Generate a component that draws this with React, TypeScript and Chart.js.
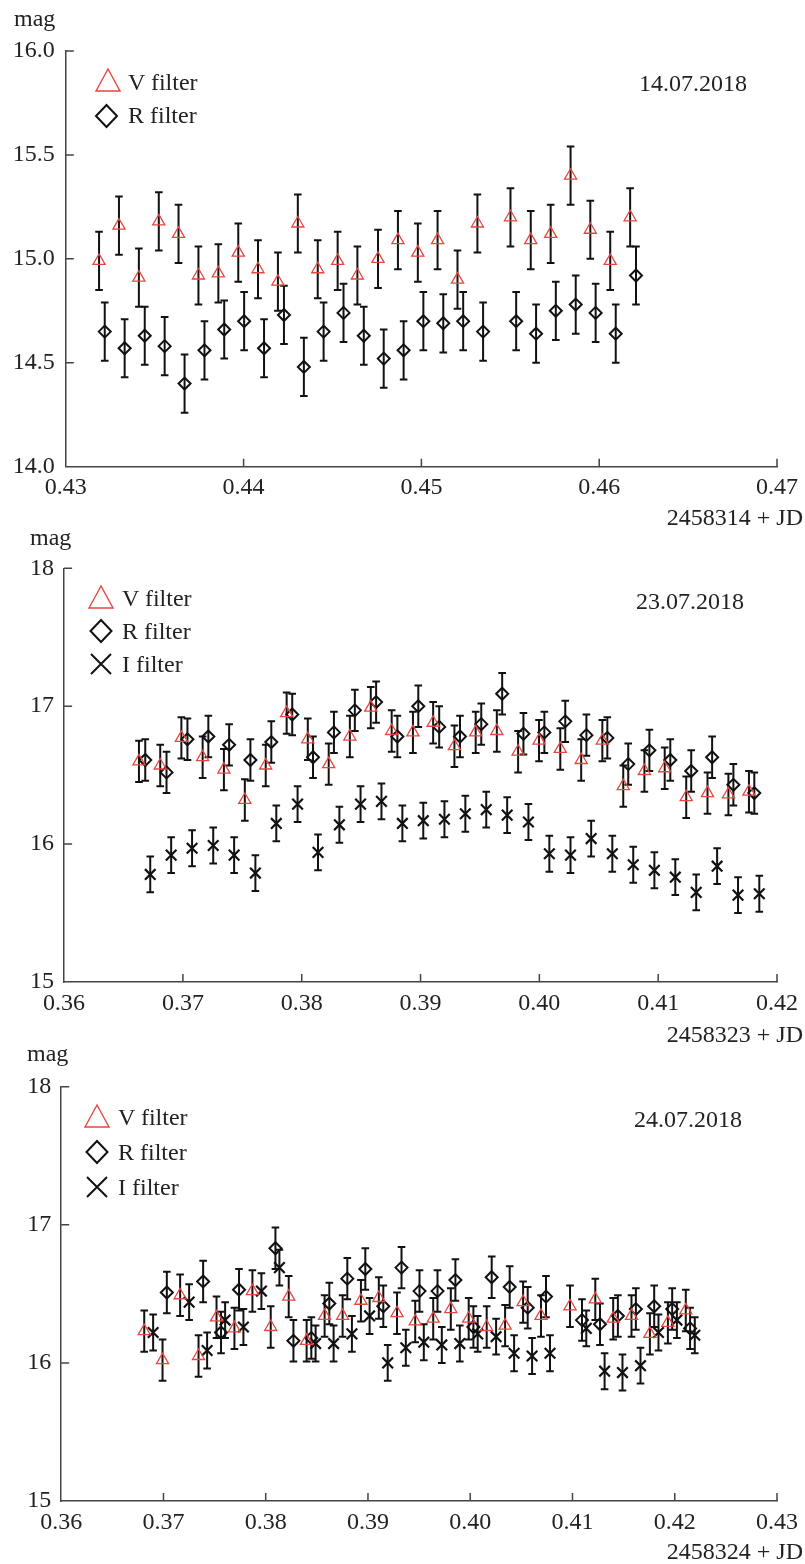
import React, { useEffect, useRef } from 'react';
import { Chart, registerables } from 'chart.js';

Chart.register(...registerables);

const FONT = "'Liberation Serif', 'DejaVu Serif', 'Times New Roman', Times, serif";
const AXIS_COLOR = '#444';
const TEXT_COLOR = '#222';
const RED = '#e8473f';

// ---------- Panel 1: 14.07.2018 (2458314 + JD) ----------
const P1_V_JD = [0.43187, 0.43299, 0.43411, 0.43523, 0.43634, 0.43746, 0.43858, 0.4397, 0.44081, 0.44193, 0.44305, 0.44417, 0.44529, 0.4464, 0.44756, 0.44868, 0.4498, 0.45091, 0.45203, 0.45315, 0.45501, 0.45615, 0.45727, 0.45839, 0.4595, 0.46062, 0.46174];
const P1_V_MAG = [14.99, 15.16, 14.91, 15.18, 15.12, 14.92, 14.93, 15.03, 14.95, 14.89, 15.17, 14.95, 14.99, 14.92, 15.0, 15.09, 15.03, 15.09, 14.9, 15.17, 15.2, 15.09, 15.12, 15.4, 15.14, 14.99, 15.2];
const P1_R_JD = [0.43219, 0.43331, 0.43444, 0.43556, 0.43668, 0.4378, 0.43891, 0.44003, 0.44115, 0.44227, 0.44339, 0.4445, 0.44562, 0.44676, 0.44788, 0.449, 0.45011, 0.45123, 0.45235, 0.45347, 0.45533, 0.45645, 0.45756, 0.45868, 0.4598, 0.46093, 0.46207];
const P1_R_MAG = [14.65, 14.57, 14.63, 14.58, 14.4, 14.56, 14.66, 14.7, 14.57, 14.73, 14.48, 14.65, 14.74, 14.63, 14.52, 14.56, 14.7, 14.69, 14.7, 14.65, 14.7, 14.64, 14.75, 14.78, 14.74, 14.64, 14.92];
const P1_V_ERR = 0.14;
const P1_R_ERR = 0.14;

// ---------- Panel 2: 23.07.2018 (2458323 + JD) ----------
const P2_V_JD = [0.3663, 0.36809, 0.36987, 0.37166, 0.37345, 0.37521, 0.37697, 0.37873, 0.38051, 0.38227, 0.38405, 0.38581, 0.38757, 0.38936, 0.39106, 0.39285, 0.39464, 0.39642, 0.39821, 0.39997, 0.40176, 0.40352, 0.4053, 0.40706, 0.40884, 0.41055, 0.41236, 0.41415, 0.41591, 0.41764];
const P2_V_MAG = [16.6, 16.57, 16.77, 16.63, 16.54, 16.32, 16.57, 16.95, 16.76, 16.58, 16.78, 16.99, 16.82, 16.81, 16.88, 16.71, 16.81, 16.82, 16.67, 16.75, 16.69, 16.61, 16.75, 16.42, 16.53, 16.55, 16.34, 16.37, 16.36, 16.38];
const P2_R_JD = [0.36683, 0.36862, 0.37038, 0.37214, 0.37389, 0.37568, 0.37744, 0.3792, 0.38095, 0.38271, 0.38447, 0.38626, 0.38805, 0.38981, 0.39157, 0.39332, 0.39511, 0.39687, 0.39866, 0.40042, 0.40218, 0.40396, 0.40572, 0.40748, 0.40926, 0.41102, 0.41278, 0.41454, 0.41633, 0.41809];
const P2_R_MAG = [16.61, 16.52, 16.76, 16.78, 16.72, 16.61, 16.74, 16.94, 16.63, 16.81, 16.97, 17.03, 16.78, 17.0, 16.85, 16.78, 16.87, 17.09, 16.8, 16.81, 16.89, 16.79, 16.77, 16.58, 16.68, 16.61, 16.53, 16.63, 16.43, 16.37];
const P2_I_JD = [0.36725, 0.36901, 0.37077, 0.37255, 0.37431, 0.3761, 0.37786, 0.37965, 0.38137, 0.38317, 0.38495, 0.38671, 0.38847, 0.39023, 0.39201, 0.39377, 0.39553, 0.39729, 0.39908, 0.40084, 0.40262, 0.40436, 0.40614, 0.4079, 0.40968, 0.41144, 0.4132, 0.41496, 0.41672, 0.41851];
const P2_I_MAG = [15.78, 15.92, 15.97, 15.99, 15.92, 15.79, 16.15, 16.29, 15.94, 16.14, 16.29, 16.31, 16.15, 16.17, 16.18, 16.22, 16.25, 16.21, 16.16, 15.93, 15.92, 16.04, 15.93, 15.85, 15.81, 15.76, 15.65, 15.84, 15.63, 15.64];
const P2_V_ERR = 0.15;
const P2_R_ERR = 0.15;
const P2_I_ERR = 0.13;

// ---------- Panel 3: 24.07.2018 (2458324 + JD) ----------
const P3_V_JD = [0.36812, 0.36991, 0.37163, 0.37343, 0.37519, 0.37694, 0.3787, 0.38049, 0.38225, 0.384, 0.38576, 0.38752, 0.38931, 0.39106, 0.39284, 0.39462, 0.39638, 0.3981, 0.39985, 0.40161, 0.40341, 0.40517, 0.40692, 0.40976, 0.41223, 0.41398, 0.41577, 0.41757, 0.41933, 0.42108];
const P3_V_MAG = [16.23, 16.02, 16.49, 16.05, 16.33, 16.25, 16.52, 16.26, 16.48, 16.16, 16.34, 16.34, 16.45, 16.47, 16.36, 16.3, 16.32, 16.39, 16.32, 16.26, 16.27, 16.44, 16.34, 16.41, 16.46, 16.32, 16.34, 16.21, 16.29, 16.38];
const P3_R_JD = [0.37033, 0.37388, 0.37563, 0.37739, 0.38095, 0.38271, 0.38446, 0.38622, 0.38798, 0.38974, 0.3915, 0.39328, 0.39504, 0.3968, 0.39855, 0.40031, 0.4021, 0.40386, 0.40562, 0.40741, 0.41093, 0.41269, 0.41444, 0.4162, 0.41799, 0.41975, 0.4215];
const P3_R_MAG = [16.51, 16.59, 16.22, 16.53, 16.83, 16.16, 16.18, 16.43, 16.61, 16.68, 16.41, 16.69, 16.52, 16.52, 16.6, 16.26, 16.62, 16.55, 16.4, 16.48, 16.31, 16.28, 16.34, 16.39, 16.41, 16.39, 16.25];
const P3_I_JD = [0.36899, 0.37251, 0.37427, 0.37603, 0.37782, 0.37958, 0.38134, 0.38488, 0.38664, 0.38843, 0.39016, 0.39193, 0.3937, 0.39546, 0.39722, 0.39898, 0.40073, 0.40253, 0.40429, 0.40605, 0.4078, 0.41135, 0.41314, 0.41489, 0.41665, 0.41841, 0.42021, 0.42196];
const P3_I_MAG = [16.22, 16.44, 16.09, 16.31, 16.26, 16.52, 16.69, 16.14, 16.14, 16.21, 16.34, 16.0, 16.11, 16.15, 16.13, 16.14, 16.21, 16.19, 16.07, 16.05, 16.07, 16.25, 15.94, 15.93, 15.98, 16.22, 16.31, 16.2];
const P3_V_ERR = 0.15;
const P3_R_ERR = 0.15;
const P3_I_ERR = 0.13;

// ---------- styles ----------
const STYLE_V = { pointStyle: 'triangle', radius: 7, color: RED, width: 1.3 };
const STYLE_R = { pointStyle: 'rectRot', radius: 6, color: '#111', width: 2 };
const STYLE_I = { pointStyle: 'crossRot', radius: 7.5, color: '#111', width: 2.2 };

type Series = { label: string; jd: number[]; mag: number[]; err: number; style: any };

type PanelCfg = {
  top: number;
  height: number;
  padding: { left: number; right: number; top: number; bottom: number };
  yWidth: number;
  yPad: number;
  xMin: number;
  xMax: number;
  yMin: number;
  yMax: number;
  yStep: number;
  yDecimals: number;
  series: Series[];
};

const PANELS: PanelCfg[] = [
  {
    top: 0,
    height: 530,
    padding: { left: 0, right: 23.5, top: 51, bottom: 23.3 },
    yWidth: 65.8,
    yPad: 11,
    xMin: 0.43,
    xMax: 0.47,
    yMin: 14,
    yMax: 16,
    yStep: 0.5,
    yDecimals: 1,
    series: [
      { label: 'V filter', jd: P1_V_JD, mag: P1_V_MAG, err: P1_V_ERR, style: STYLE_V },
      { label: 'R filter', jd: P1_R_JD, mag: P1_R_MAG, err: P1_R_ERR, style: STYLE_R },
    ],
  },
  {
    top: 530,
    height: 520,
    padding: { left: 0, right: 24.5, top: 38.3, bottom: 28 },
    yWidth: 64.1,
    yPad: 10,
    xMin: 0.36,
    xMax: 0.42,
    yMin: 15,
    yMax: 18,
    yStep: 1,
    yDecimals: 0,
    series: [
      { label: 'V filter', jd: P2_V_JD, mag: P2_V_MAG, err: P2_V_ERR, style: STYLE_V },
      { label: 'R filter', jd: P2_R_JD, mag: P2_R_MAG, err: P2_R_ERR, style: STYLE_R },
      { label: 'I filter', jd: P2_I_JD, mag: P2_I_MAG, err: P2_I_ERR, style: STYLE_I },
    ],
  },
  {
    top: 1050,
    height: 514,
    padding: { left: 0, right: 27, top: 36.7, bottom: 23 },
    yWidth: 61.2,
    yPad: 10,
    xMin: 0.36,
    xMax: 0.43,
    yMin: 15,
    yMax: 18,
    yStep: 1,
    yDecimals: 0,
    series: [
      { label: 'V filter', jd: P3_V_JD, mag: P3_V_MAG, err: P3_V_ERR, style: STYLE_V },
      { label: 'R filter', jd: P3_R_JD, mag: P3_R_MAG, err: P3_R_ERR, style: STYLE_R },
      { label: 'I filter', jd: P3_I_JD, mag: P3_I_MAG, err: P3_I_ERR, style: STYLE_I },
    ],
  },
];

const errorBarPlugin = {
  id: 'errorBars',
  beforeDatasetsDraw(chart: any) {
    const { ctx, scales } = chart;
    const xs = scales.x;
    const ys = scales.y;
    ctx.save();
    ctx.strokeStyle = '#111';
    ctx.lineWidth = 2;
    chart.data.datasets.forEach((ds: any) => {
      const err = ds.errorBar || 0;
      ds.data.forEach((p: any) => {
        const px = xs.getPixelForValue(p.x);
        const top = ys.getPixelForValue(p.y + err);
        const bot = ys.getPixelForValue(p.y - err);
        ctx.beginPath();
        ctx.moveTo(px, top);
        ctx.lineTo(px, bot);
        ctx.moveTo(px - 3.8, top);
        ctx.lineTo(px + 3.8, top);
        ctx.moveTo(px - 3.8, bot);
        ctx.lineTo(px + 3.8, bot);
        ctx.stroke();
      });
    });
    ctx.restore();
  },
};

const innerTicksPlugin = {
  id: 'innerTicks',
  afterDraw(chart: any) {
    const { ctx, scales } = chart;
    const xs = scales.x;
    const ys = scales.y;
    ctx.save();
    ctx.strokeStyle = AXIS_COLOR;
    ctx.lineWidth = 1.5;
    ctx.beginPath();
    xs.ticks.forEach((t: any) => {
      if (Math.abs(t.value - xs.min) < 1e-9) return;
      const px = xs.getPixelForValue(t.value);
      ctx.moveTo(px, xs.top);
      ctx.lineTo(px, xs.top - 8);
    });
    ys.ticks.forEach((t: any) => {
      if (Math.abs(t.value - ys.min) < 1e-9) return;
      const py = ys.getPixelForValue(t.value);
      ctx.moveTo(ys.right, py);
      ctx.lineTo(ys.right + 8, py);
    });
    ctx.stroke();
    ctx.restore();
  },
};

function Panel({ cfg }: { cfg: PanelCfg }) {
  const ref = useRef<HTMLCanvasElement>(null);
  useEffect(() => {
    const canvas = ref.current;
    if (!canvas) return;
    const tickFont = { family: FONT, size: 24 };
    const chart = new Chart(canvas, {
      type: 'scatter',
      data: {
        datasets: cfg.series.map((s) => ({
          label: s.label,
          data: s.jd.map((x, i) => ({ x, y: s.mag[i] })),
          pointStyle: s.style.pointStyle,
          pointRadius: s.style.radius,
          pointHoverRadius: s.style.radius,
          borderColor: s.style.color,
          pointBorderColor: s.style.color,
          backgroundColor: 'rgba(0,0,0,0)',
          pointBackgroundColor: 'rgba(0,0,0,0)',
          pointBorderWidth: s.style.width,
          borderWidth: s.style.width,
          showLine: false,
          errorBar: s.err,
        })) as any,
      },
      options: {
        responsive: false,
        animation: false,
        events: [],
        layout: { padding: cfg.padding },
        plugins: {
          legend: { display: false },
          tooltip: { enabled: false },
          title: { display: false },
        },
        scales: {
          x: {
            type: 'linear',
            min: cfg.xMin,
            max: cfg.xMax,
            grid: { display: false, drawTicks: false },
            border: { display: true, color: AXIS_COLOR, width: 1.5 },
            ticks: {
              stepSize: 0.01,
              autoSkip: false,
              maxRotation: 0,
              padding: 7,
              color: TEXT_COLOR,
              font: tickFont,
              callback: (v: any) => Number(v).toFixed(2),
            },
            afterFit: (s: any) => {
              s.height = 40;
            },
          },
          y: {
            type: 'linear',
            min: cfg.yMin,
            max: cfg.yMax,
            grid: { display: false, drawTicks: false },
            border: { display: true, color: AXIS_COLOR, width: 1.5 },
            ticks: {
              stepSize: cfg.yStep,
              autoSkip: false,
              padding: cfg.yPad,
              color: TEXT_COLOR,
              font: tickFont,
              callback: (v: any) => Number(v).toFixed(cfg.yDecimals),
            },
            afterFit: (s: any) => {
              s.width = cfg.yWidth;
            },
          },
        },
      } as any,
      plugins: [errorBarPlugin, innerTicksPlugin],
    });
    return () => chart.destroy();
  }, [cfg]);
  return (
    <canvas
      ref={ref}
      width={805}
      height={cfg.height}
      style={{ position: 'absolute', left: 0, top: cfg.top, width: 805, height: cfg.height, display: 'block' }}
    />
  );
}

const textBase: React.CSSProperties = {
  position: 'absolute',
  fontFamily: FONT,
  fontSize: 24,
  lineHeight: '24px',
  color: TEXT_COLOR,
  whiteSpace: 'nowrap',
};

function Label({ left, top, right, children }: { left?: number; top: number; right?: number; children: React.ReactNode }) {
  return <div style={{ ...textBase, left, top, right }}>{children}</div>;
}

function Triangle({ cx, cy }: { cx: number; cy: number }) {
  return (
    <polygon
      points={`${cx},${cy - 12} ${cx - 12},${cy + 10} ${cx + 12},${cy + 10}`}
      fill="none"
      stroke={RED}
      strokeWidth={1.4}
    />
  );
}
function Diamond({ cx, cy }: { cx: number; cy: number }) {
  return (
    <polygon
      points={`${cx},${cy - 11} ${cx + 10.5},${cy} ${cx},${cy + 11} ${cx - 10.5},${cy}`}
      fill="none"
      stroke="#111"
      strokeWidth={2}
    />
  );
}
function Cross({ cx, cy }: { cx: number; cy: number }) {
  return (
    <path
      d={`M${cx - 10},${cy - 10} L${cx + 10},${cy + 10} M${cx - 10},${cy + 10} L${cx + 10},${cy - 10}`}
      stroke="#111"
      strokeWidth={2}
    />
  );
}

export default function App() {
  return (
    <div
      style={{
        position: 'absolute',
        left: 0,
        top: 0,
        width: 805,
        height: 1564,
        overflow: 'hidden',
        background: '#fff',
      }}
    >
      {PANELS.map((p, i) => (
        <Panel key={i} cfg={p} />
      ))}
      <svg
        width={805}
        height={1564}
        style={{ position: 'absolute', left: 0, top: 0, pointerEvents: 'none' }}
      >
        <Triangle cx={108} cy={81} />
        <Diamond cx={106.5} cy={116} />
        <Triangle cx={101} cy={598} />
        <Diamond cx={101} cy={631} />
        <Cross cx={101} cy={664} />
        <Triangle cx={97} cy={1117} />
        <Diamond cx={97} cy={1152} />
        <Cross cx={97} cy={1187} />
      </svg>

      {/* Panel 1 texts */}
      <Label left={14} top={6}>mag</Label>
      <Label left={128} top={70}>V filter</Label>
      <Label left={128} top={103}>R filter</Label>
      <Label left={639} top={71}>14.07.2018</Label>
      <Label right={2} top={505}>2458314 + JD</Label>

      {/* Panel 2 texts */}
      <Label left={30} top={525}>mag</Label>
      <Label left={122} top={586}>V filter</Label>
      <Label left={122} top={619}>R filter</Label>
      <Label left={122} top={652}>I filter</Label>
      <Label left={636} top={589}>23.07.2018</Label>
      <Label right={2} top={1022}>2458323 + JD</Label>

      {/* Panel 3 texts */}
      <Label left={27} top={1041}>mag</Label>
      <Label left={118} top={1105}>V filter</Label>
      <Label left={118} top={1140}>R filter</Label>
      <Label left={118} top={1175}>I filter</Label>
      <Label left={634} top={1107}>24.07.2018</Label>
      <Label right={2} top={1539}>2458324 + JD</Label>
    </div>
  );
}
